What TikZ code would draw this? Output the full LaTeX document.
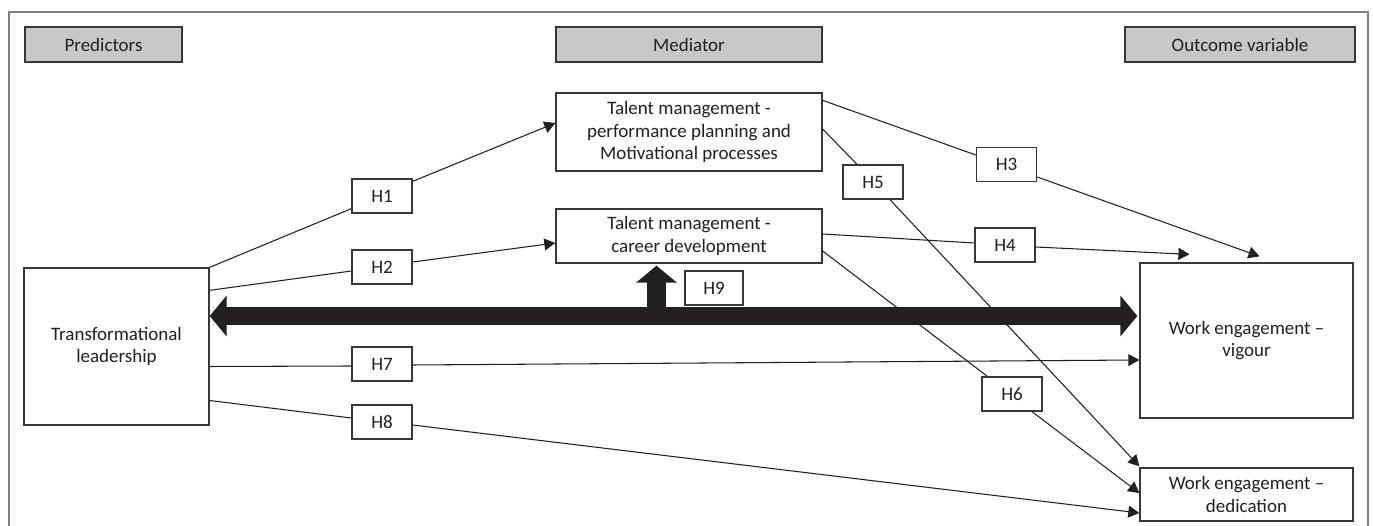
\documentclass[tikz,border=0pt]{standalone}
\usepackage{fontspec}
\setmainfont{Carlito}
\usetikzlibrary{arrows.meta,calc}
\definecolor{inkgray}{RGB}{35,31,32}
\definecolor{boxgray}{RGB}{55,55,55}
\definecolor{hdrfill}{RGB}{200,200,202}
\definecolor{framegray}{RGB}{128,128,128}

\begin{document}
\begin{tikzpicture}[
    x=0.02cm, y=-0.02cm,
    font=\fontsize{10.8}{12.6}\selectfont,
    every node/.style={text=inkgray},
    hdr/.style={rectangle, draw=boxgray, fill=hdrfill, line width=0.75pt, minimum height=0.70cm, inner sep=0pt},
    var/.style={rectangle, draw=boxgray, line width=0.75pt, align=center, inner sep=0pt},
    hyp/.style={rectangle, draw=boxgray, fill=white, line width=0.75pt, minimum width=1.2cm, minimum height=0.68cm, inner sep=0pt},
    link/.style={draw=inkgray, line width=0.6pt},
    arr/.style={link, -{Triangle[length=6.3pt, width=6.8pt]}},
    fatarr/.style={draw=inkgray, line width=10.8pt},
    Fat/.tip={Triangle[length=9.7pt, width=22.8pt]}
]
    \useasboundingbox (0,0) rectangle (1373,526);
    \clip (0,0) rectangle (1373,526);

    % Frame round the figure
    \draw[framegray, line width=0.8pt] (9,540) -- (9,12) -- (1368,12) -- (1368,540);

    % Column headers
    \node[hdr, minimum width=3.14cm] (pred) at (103.5,44.5) {Predictors};
    \node[hdr, minimum width=5.32cm] (med) at (689,44.5) {Mediator};
    \node[hdr, minimum width=4.60cm] (outc) at (1240,44.5) {Outcome variable};

    % Variables
    \node[var, minimum width=3.70cm, minimum height=3.14cm] (tl) at (116.5,346.5) {Transformational\\leadership};
    \node[var, minimum width=5.32cm, minimum height=1.56cm] (tm1) at (689,132) {Talent management -\\performance planning and\\Motivational processes};
    \node[var, minimum width=5.32cm, minimum height=1.08cm] (tm2) at (689,236) {Talent management -\\career development};
    \node[var, minimum width=4.26cm, minimum height=3.10cm] (wev) at (1246.5,340.5) {Work engagement --\\vigour};
    \node[var, minimum width=4.26cm, minimum height=1.06cm] (wed) at (1246.5,494.5) {Work engagement --\\dedication};

    % Hypotheses
    \node[hyp] (h1) at (382,196) {H1};
    \node[hyp] (h2) at (382,267) {H2};
    \node[hyp] (h3) at (1006.5,164.5) {H3};
    \node[hyp] (h4) at (1005,245) {H4};
    \node[hyp] (h5) at (873,182) {H5};
    \node[hyp] (h6) at (1012,394) {H6};
    \node[hyp] (h7) at (382,364) {H7};
    \node[hyp] (h8) at (382,422) {H8};
    \node[hyp, minimum width=1.16cm] (h9) at (714,288) {H9};

    % Paths
    \draw[link] (tl.north east) -- ($(h1.south west)+(0,-5)$);
    \draw[arr] ($(h1.north east)+(0,3)$) -- ($(tm1.west)+(0,-9)$);
    \draw[link] ($(tl.north east)+(0,23)$) -- ($(h2.west)+(0,4)$);
    \draw[arr] ($(h2.east)+(0,-5)$) -- ($(tm2.west)+(0,7)$);
    \draw[link] ($(tl.east)+(0,20)$) -- ($(h7.west)+(0,2)$);
    \draw[arr] ($(h7.east)+(0,1)$) -- ($(wev.west)+(0,19.5)$);
    \draw[link] ($(tl.east)+(0,54)$) -- ($(h8.west)+(0,-4)$);
    \draw[arr] ($(h8.east)+(0,3)$) -- ($(wed.west)+(0,18.5)$);

    \draw[link] ($(tm1.north east)+(0,8)$) -- ($(h3.west)+(0,-9.5)$);
    \draw[arr] ($(h3.east)+(0,12.5)$) -- ($(wev.north)+(13,-6)$);
    \draw[link] ($(tm2.east)+(0,-2)$) -- ($(h4.west)+(0,-2)$);
    \draw[arr] ($(h4.east)+(0,2)$) -- ($(wev.north)+(-57,-8)$);
    \draw[link] ($(tm1.east)+(0,-3)$) -- ($(h5.north)+(-16,0)$);
    \draw[arr] ($(h5.south)+(17,0)$) -- ($(wed.north west)+(0,-1)$);
    \draw[link] ($(tm2.east)+(0,15)$) -- ($(h6.north west)+(6,0)$);
    \draw[arr] ($(h6.south)+(20,0)$) -- ($(wed.west)+(0,-1.5)$);

    % Moderation arrows
    \draw[fatarr, Fat-Fat] ($(tl.east)+(0,-30.5)$) -- ($(wev.west)+(-2,-24.5)$);
    \draw[fatarr, -Fat] ($(tm2.south)+(-32.5,53)$) -- ($(tm2.south)+(-32.5,2)$);
\end{tikzpicture}
\end{document}
